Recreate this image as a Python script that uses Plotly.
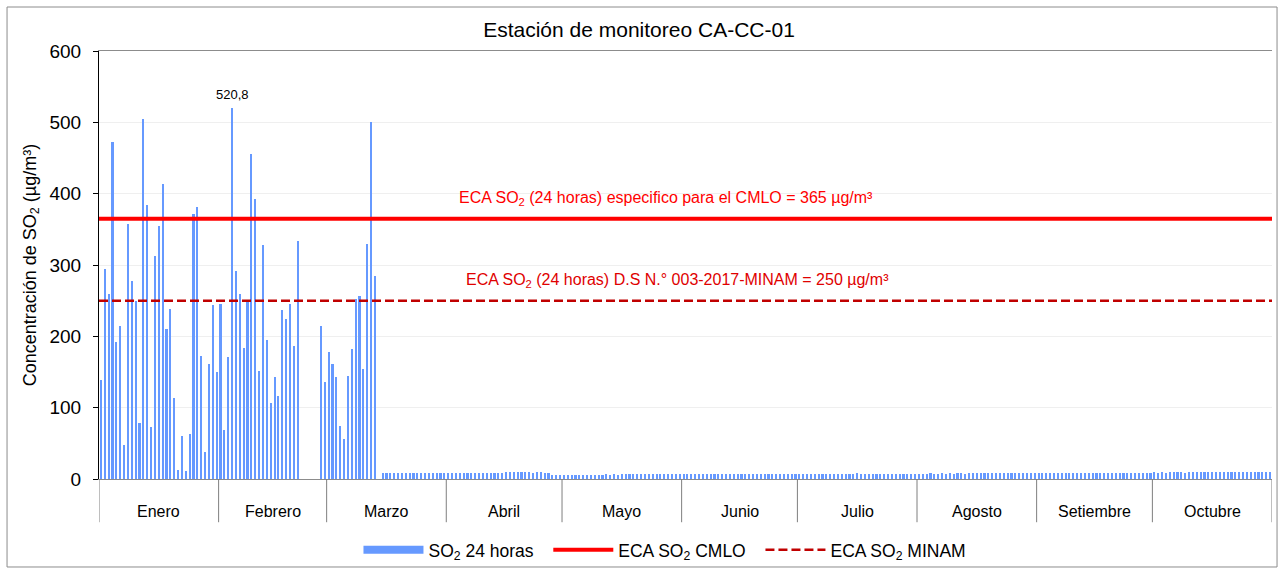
import plotly.graph_objects as go

# ---------------- data ----------------
months = ["Enero", "Febrero", "Marzo", "Abril", "Mayo", "Junio",
          "Julio", "Agosto", "Setiembre", "Octubre"]
days_in_month = [31, 28, 31, 30, 31, 30, 31, 31, 30, 31]

ene = [139, 295, 260, 472, 192, 214, 47, 357, 278, 250, 79, 505, 384, 73, 313,
       355, 414, 210, 238, 113, 12, 60, 11, 63, 372, 382, 172, 38, 161, 244, 150]
feb = [246, 68, 171, 520.8, 292, 260, 183, 249, 456, 393, 152, 328, 195, 106,
       143, 116, 237, 224, 245, 186, 334, None, None, None, None, None, 214, 136]
mar = [178, 161, 143, 74, 56, 144, 182, 252, 256, 154, 329, 501, 284, None,
       8.6, 8.9, 8.7, 8.9, 8.5, 8.8, 8.6, 8.4, 8.7, 8.5, 8.6, 8.4, 8.8, 8.6,
       8.5, 8.7, 8.6]
abr = [8.6, 8.8, 8.5, 8.7, 8.6, 8.9, 8.7, 8.8, 8.6, 8.9, 8.8, 8.7, 9.0, 8.8,
       8.9, 9.2, 9.4, 9.3, 9.5, 9.2, 9.4, 9.3, 9.1, 9.2, 9.3, 9.0, 8.9, 6.2,
       5.8, 6.0]
may = [5.7, 5.9, 5.6, 6.0, 5.8, 6.1, 5.9, 6.2, 6.0, 6.3, 6.1, 6.4, 6.2, 6.5,
       6.3, 6.4, 6.6, 6.5, 6.4, 6.6, 6.5, 6.7, 6.6, 6.5, 6.8, 6.6, 6.7, 6.5,
       6.6, 6.8, 6.7]
jun = [6.8, 6.6, 6.9, 6.7, 6.8, 7.0, 6.7, 6.9, 6.8, 6.6, 6.9, 7.0, 6.8, 6.7,
       6.9, 6.8, 7.0, 6.9, 6.8, 7.1, 6.9, 6.8, 7.0, 6.9, 7.1, 6.8, 7.0, 6.9,
       7.1, 7.0]
jul = [7.4, 7.2, 7.5, 7.3, 7.6, 7.4, 7.5, 7.3, 7.6, 7.7, 7.5, 7.4, 7.6, 7.5,
       7.7, 7.8, 7.6, 7.5, 7.4, 7.6, 7.5, 7.7, 7.6, 7.5, 7.4, 7.6, 7.5, 7.7,
       7.6, 7.5, 7.6]
ago = [7.6, 7.7, 7.5, 7.8, 7.6, 7.7, 7.9, 7.7, 7.8, 7.6, 7.8, 7.9, 7.7, 7.8,
       8.0, 7.9, 7.8, 8.1, 7.9, 8.0, 7.8, 8.1, 8.0, 7.9, 8.2, 8.0, 8.1, 7.9,
       8.2, 8.1, 8.0]
sep = [8.2, 8.3, 8.1, 8.4, 8.3, 8.5, 8.2, 8.4, 8.6, 8.3, 8.5, 8.4, 8.6, 8.5,
       8.3, 8.7, 8.5, 8.6, 8.4, 8.7, 8.6, 8.5, 8.8, 8.6, 8.7, 8.5, 8.8, 8.7,
       8.6, 8.8]
octu = [9.2, 9.0, 9.3, 9.1, 9.4, 9.2, 9.5, 9.3, 9.1, 9.4, 9.2, 9.6, 9.3, 9.5,
        9.4, 9.2, 9.6, 9.4, 9.5, 9.3, 9.7, 9.5, 9.4, 9.6, 9.5, 9.7, 9.4, 9.6,
        9.5, 9.8, 9.6]

ECA_CMLO = 365
ECA_MINAM = 250
max_label = "520,8"

# ---------------- build ----------------
so2 = ene + feb + mar + abr + may + jun + jul + ago + sep + octu
day_idx = list(range(1, len(so2) + 1))
n_days = len(so2)

bounds = [0.5]
for d in days_in_month:
    bounds.append(bounds[-1] + d)
centers = [(bounds[i] + bounds[i + 1]) / 2 for i in range(len(months))]

FONT = "Liberation Sans, Arial, sans-serif"
BAR = "#6699FF"
PAD = "&nbsp;&nbsp;"

fig = go.Figure()
fig.add_trace(go.Bar(x=day_idx, y=so2, marker=dict(color=BAR, line=dict(width=0)),
                     width=0.55, showlegend=False, name="SO<sub>2</sub> 24 horas"))
# legend proxy for bar series
fig.add_trace(go.Scatter(x=[None], y=[None], mode="lines",
                         line=dict(color=BAR, width=8),
                         name="SO<sub>2</sub> 24 horas" + PAD))
fig.add_trace(go.Scatter(x=[bounds[0], bounds[-1]], y=[ECA_CMLO, ECA_CMLO],
                         mode="lines", line=dict(color="#FF0000", width=4),
                         name="ECA SO<sub>2</sub> CMLO" + PAD))
fig.add_trace(go.Scatter(x=[bounds[0], bounds[-1]], y=[ECA_MINAM, ECA_MINAM],
                         mode="lines", line=dict(color="#C00000", width=2.5, dash="9px,4px"),
                         name="ECA SO<sub>2</sub> MINAM"))

imax = max(range(n_days), key=lambda i: so2[i] if so2[i] is not None else -1)

annotations = [
    dict(x=day_idx[imax], y=so2[imax], text=max_label, showarrow=False,
         yanchor="bottom", yshift=4, font=dict(size=13, color="#000000", family=FONT)),
    dict(x=147.5, y=ECA_CMLO, yshift=20, yanchor="middle",
         text="ECA SO<sub>2</sub> (24 horas) especifico para el CMLO = 365 µg/m³",
         showarrow=False, font=dict(size=16, color="#FF0000", family=FONT)),
    dict(x=150.5, y=ECA_MINAM, yshift=20, yanchor="middle",
         text="ECA SO<sub>2</sub> (24 horas) D.S N.° 003-2017-MINAM = 250 µg/m³",
         showarrow=False, font=dict(size=16, color="#E00000", family=FONT)),
]
for m, c in zip(months, centers):
    annotations.append(dict(x=c, y=-0.075, xref="x", yref="paper", text=m,
                            yanchor="middle", showarrow=False,
                            font=dict(size=16, color="#000000", family=FONT)))

shapes = []
for b in bounds:
    shapes.append(dict(type="line", xref="x", yref="paper", x0=b, x1=b, y0=0, y1=-0.101,
                       line=dict(color="#7f7f7f", width=1)))
# outer chart border
shapes.append(dict(type="rect", xref="paper", yref="paper", x0=-0.0784, x1=1.0043,
                   y0=-0.2056, y1=1.1028, line=dict(color="#8c8c8c", width=1)))

fig.update_layout(
    width=1278, height=568,
    margin=dict(l=99, r=6, t=51, b=89, autoexpand=False),
    paper_bgcolor="white", plot_bgcolor="white",
    font=dict(family=FONT, color="#000000"),
    title=dict(text="Estación de monitoreo CA-CC-01", x=0.5, xanchor="center",
               y=0.947, yanchor="middle", font=dict(size=21, family=FONT)),
    bargap=0,
    xaxis=dict(range=[bounds[0], bounds[-1]], showticklabels=False, ticks="",
               showgrid=False, zeroline=False, showline=True, linecolor="#8c8c8c",
               linewidth=1, mirror=True),
    yaxis=dict(range=[0, 600], dtick=100, tick0=0, showgrid=True, gridcolor="#efefef",
               gridwidth=1, zeroline=False, showline=True, linecolor="#000000",
               linewidth=1, ticks="outside", ticklen=5, tickcolor="#000000",
               ticklabelstandoff=8,
               tickfont=dict(size=19, family=FONT),
               title=dict(text="Concentración de SO<sub>2</sub> (µg/m³)",
                          font=dict(size=18, family=FONT), standoff=8)),
    legend=dict(orientation="h", x=0.4825, xanchor="center",
                yref="container", y=0.032, yanchor="middle",
                font=dict(size=17.5, family=FONT), itemwidth=60,
                bgcolor="rgba(0,0,0,0)", traceorder="normal"),
    annotations=annotations,
    shapes=shapes,
)

fig.write_html("out.html", config={"displayModeBar": False},
               post_script="document.body.style.margin='0';")
